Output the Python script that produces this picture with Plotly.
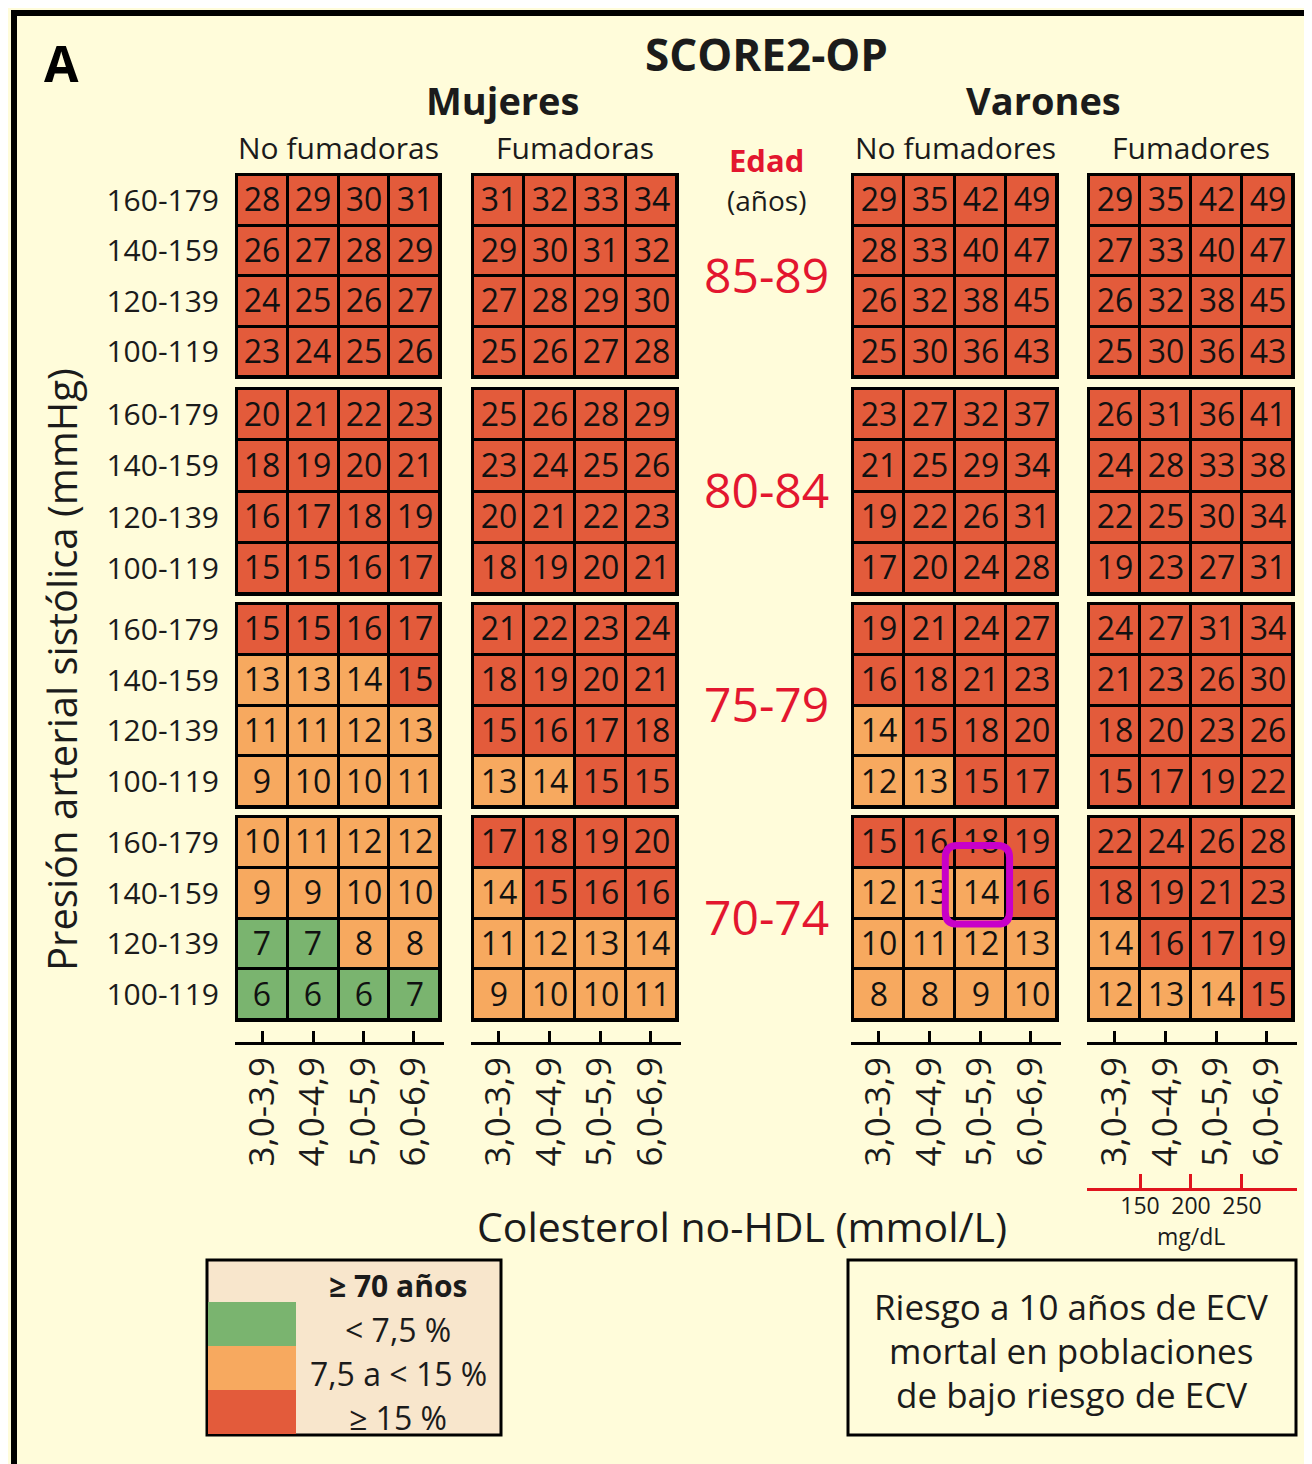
import plotly.graph_objects as go

# ---------------- data ----------------
chol_labels = ["3,0-3,9", "4,0-4,9", "5,0-5,9", "6,0-6,9"]
bp_labels = ["100-119", "120-139", "140-159", "160-179"]          # bottom -> top
age_groups = ["85-89", "80-84", "75-79", "70-74"]                  # top -> bottom
panel_titles = ["No fumadoras", "Fumadoras", "No fumadores", "Fumadores"]
sex_titles = ["Mujeres", "Varones"]
mgdl_ticks = [150, 200, 250]
risk_thresholds = [7.5, 15]
legend_labels = ["< 7,5 %", "7,5 a < 15 %", "≥ 15 %"]

# rows listed top (160-179) to bottom (100-119)
mujeres_no_fumadoras = {
    "85-89": [[28, 29, 30, 31], [26, 27, 28, 29], [24, 25, 26, 27], [23, 24, 25, 26]],
    "80-84": [[20, 21, 22, 23], [18, 19, 20, 21], [16, 17, 18, 19], [15, 15, 16, 17]],
    "75-79": [[15, 15, 16, 17], [13, 13, 14, 15], [11, 11, 12, 13], [9, 10, 10, 11]],
    "70-74": [[10, 11, 12, 12], [9, 9, 10, 10], [7, 7, 8, 8], [6, 6, 6, 7]],
}
mujeres_fumadoras = {
    "85-89": [[31, 32, 33, 34], [29, 30, 31, 32], [27, 28, 29, 30], [25, 26, 27, 28]],
    "80-84": [[25, 26, 28, 29], [23, 24, 25, 26], [20, 21, 22, 23], [18, 19, 20, 21]],
    "75-79": [[21, 22, 23, 24], [18, 19, 20, 21], [15, 16, 17, 18], [13, 14, 15, 15]],
    "70-74": [[17, 18, 19, 20], [14, 15, 16, 16], [11, 12, 13, 14], [9, 10, 10, 11]],
}
varones_no_fumadores = {
    "85-89": [[29, 35, 42, 49], [28, 33, 40, 47], [26, 32, 38, 45], [25, 30, 36, 43]],
    "80-84": [[23, 27, 32, 37], [21, 25, 29, 34], [19, 22, 26, 31], [17, 20, 24, 28]],
    "75-79": [[19, 21, 24, 27], [16, 18, 21, 23], [14, 15, 18, 20], [12, 13, 15, 17]],
    "70-74": [[15, 16, 18, 19], [12, 13, 14, 16], [10, 11, 12, 13], [8, 8, 9, 10]],
}
varones_fumadores = {
    "85-89": [[29, 35, 42, 49], [27, 33, 40, 47], [26, 32, 38, 45], [25, 30, 36, 43]],
    "80-84": [[26, 31, 36, 41], [24, 28, 33, 38], [22, 25, 30, 34], [19, 23, 27, 31]],
    "75-79": [[24, 27, 31, 34], [21, 23, 26, 30], [18, 20, 23, 26], [15, 17, 19, 22]],
    "70-74": [[22, 24, 26, 28], [18, 19, 21, 23], [14, 16, 17, 19], [12, 13, 14, 15]],
}
panels_data = [mujeres_no_fumadoras, mujeres_fumadoras, varones_no_fumadores, varones_fumadores]

# highlighted cell
highlight = {"panel": 2, "age": "70-74", "bp": "140-159", "chol": "5,0-5,9"}

# ---------------- style ----------------
W, H = 1312, 1464
OFF = 8                      # page body margin
FW, FH = W - OFF, H - OFF
FONT = "Open Sans"
TXT = "#1b1b1b"
RED_TXT = "#E3162F"
BG = "#FFFCDA"
LEGEND_BG = "#F8E6CC"
risk_colors = ["#7AB46F", "#F7A95F", "#E35B3B"]
MAGENTA = "#C800C8"

panel_x = [(237, 440), (473, 677), (853, 1057), (1089, 1293)]
block_y = [(175, 377), (389, 594), (604, 807), (817, 1020)]


def fx(px):
    return (px - OFF) / FW


def fy(py):
    return 1 - (py - OFF) / FH


def category(v):
    return sum(1 for t in risk_thresholds if v >= t)


colorscale = [[0, risk_colors[0]], [1 / 3, risk_colors[0]],
              [1 / 3, risk_colors[1]], [2 / 3, risk_colors[1]],
              [2 / 3, risk_colors[2]], [1, risk_colors[2]]]

fig = go.Figure()
layout_axes = {}
shapes = []

xi_idx = list(range(len(chol_labels)))
yi_idx = list(range(len(bp_labels)))

for p, pdata in enumerate(panels_data):
    for b, age in enumerate(age_groups):
        k = p * 4 + b + 1
        rows = list(reversed(pdata[age]))  # bottom -> top
        z = [[category(v) for v in r] for r in rows]
        sfx = "" if k == 1 else str(k)
        fig.add_trace(go.Heatmap(
            x=xi_idx, y=yi_idx, z=z, text=rows, texttemplate="%{text}",
            textfont=dict(family=FONT, size=32, color="#111111"),
            colorscale=colorscale, zmin=0, zmax=2, showscale=False,
            xgap=3, ygap=3, xaxis="x" + sfx, yaxis="y" + sfx, hoverinfo="skip"))
        x0, x1 = panel_x[p]
        y0, y1 = block_y[b]
        layout_axes["xaxis" + sfx] = dict(
            domain=[fx(x0), fx(x1)], anchor="y" + sfx, range=[-0.5, 3.5],
            showgrid=False, zeroline=False, showticklabels=False, ticks="",
            showline=True, mirror=True, linewidth=2, linecolor="black", fixedrange=True)
        yax = dict(
            domain=[fy(y1), fy(y0)], anchor="x" + sfx, range=[-0.5, 3.5],
            showgrid=False, zeroline=False, ticks="",
            showline=True, mirror=True, linewidth=2, linecolor="black", fixedrange=True)
        if p == 0:
            yax.update(showticklabels=True, tickvals=yi_idx, ticktext=bp_labels,
                       tickfont=dict(family=FONT, size=30, color=TXT), ticklabelstandoff=10)
        else:
            yax.update(showticklabels=False)
        layout_axes["yaxis" + sfx] = yax
        shapes.append(dict(type="rect", xref="x" + sfx + " domain", yref="y" + sfx + " domain",
                           x0=0, x1=1, y0=0, y1=1, fillcolor="black", line=dict(width=0),
                           layer="below"))

# cholesterol tick strips under each panel
for p in range(4):
    k = 17 + p
    x0, x1 = panel_x[p]
    fig.add_trace(go.Scatter(x=xi_idx, y=[0] * 4, mode="markers", marker=dict(opacity=0),
                             xaxis=f"x{k}", yaxis=f"y{k}", hoverinfo="skip", showlegend=False))
    layout_axes[f"xaxis{k}"] = dict(
        domain=[fx(x0 - 2), fx(x1 + 4)], anchor=f"y{k}", range=[-0.55, 3.6],
        tickvals=xi_idx, ticktext=chol_labels, tickangle=-90,
        tickfont=dict(family=FONT, size=35, color=TXT), ticks="inside", ticklen=11,
        tickwidth=3, tickcolor="black", showline=True, linewidth=3, linecolor="black",
        showgrid=False, zeroline=False, ticklabelstandoff=-2, fixedrange=True)
    layout_axes[f"yaxis{k}"] = dict(domain=[fy(1042), fy(1030)], anchor=f"x{k}",
                                    visible=False, range=[-1, 1], fixedrange=True)

# mg/dL red axis under last panel
k = 21
fig.add_trace(go.Scatter(x=mgdl_ticks, y=[0] * 3, mode="markers", marker=dict(opacity=0),
                         xaxis=f"x{k}", yaxis=f"y{k}", hoverinfo="skip", showlegend=False))
layout_axes[f"xaxis{k}"] = dict(
    domain=[fx(1087), fx(1297)], anchor=f"y{k}", range=[98, 304],
    tickvals=mgdl_ticks, tickfont=dict(family=FONT, size=23, color=TXT),
    ticks="inside", ticklen=14, tickwidth=3, tickcolor="#E0141E",
    showline=True, linewidth=3, linecolor="#E0141E", showgrid=False, zeroline=False,
    ticklabelstandoff=-5, fixedrange=True)
layout_axes[f"yaxis{k}"] = dict(domain=[fy(1188), fy(1173)], anchor=f"x{k}",
                                visible=False, range=[-1, 1], fixedrange=True)

# highlight box around a cell
hp = highlight["panel"]
hb = age_groups.index(highlight["age"])
hk = hp * 4 + hb + 1
hx = chol_labels.index(highlight["chol"])
hy = bp_labels.index(highlight["bp"])
bx0, bx1 = hx - 0.69, hx + 0.57
by0, by1 = hy - 0.61, hy + 0.94
r = 0.24
path = (f"M {bx0 + r},{by0} L {bx1 - r},{by0} Q {bx1},{by0} {bx1},{by0 + r} "
        f"L {bx1},{by1 - r} Q {bx1},{by1} {bx1 - r},{by1} L {bx0 + r},{by1} "
        f"Q {bx0},{by1} {bx0},{by1 - r} L {bx0},{by0 + r} Q {bx0},{by0} {bx0 + r},{by0} Z")
shapes.append(dict(type="path", xref=f"x{hk}", yref=f"y{hk}", path=path,
                   line=dict(color=MAGENTA, width=7), layer="above"))

# outer frame (top and left)
shapes.append(dict(type="line", xref="paper", yref="paper", x0=fx(11), x1=1.0,
                   y0=fy(13), y1=fy(13), line=dict(color="black", width=6)))
shapes.append(dict(type="line", xref="paper", yref="paper", x0=fx(14), x1=fx(14),
                   y0=fy(10), y1=0, line=dict(color="black", width=6)))

# legend box
shapes.append(dict(type="rect", xref="paper", yref="paper", x0=fx(207), x1=fx(501),
                   y0=fy(1435), y1=fy(1260), fillcolor=LEGEND_BG,
                   line=dict(color="black", width=3), layer="below"))
leg_top = 1302
leg_h = 44
annotations = []
for i, (c, lab) in enumerate(zip(risk_colors, legend_labels)):
    ya, yb = leg_top + i * leg_h, leg_top + (i + 1) * leg_h
    shapes.append(dict(type="rect", xref="paper", yref="paper", x0=fx(208), x1=fx(296),
                       y0=fy(yb), y1=fy(ya), fillcolor=c, line=dict(width=0)))
    annotations.append(dict(x=fx(398), y=fy((ya + yb) / 2 + 5), text=lab,
                            font=dict(family=FONT, size=32, color=TXT)))
annotations.append(dict(x=fx(398), y=fy(1285), text="<b>≥ 70 años</b>",
                        font=dict(family=FONT, size=30, color=TXT)))

# right info box
shapes.append(dict(type="rect", xref="paper", yref="paper", x0=fx(848), x1=fx(1296),
                   y0=fy(1435), y1=fy(1260), line=dict(color="black", width=3)))
for i, line in enumerate(["Riesgo a 10 años de ECV", "mortal en poblaciones",
                          "de bajo riesgo de ECV"]):
    annotations.append(dict(x=fx(1071), y=fy(1306 + i * 44), text=line,
                            font=dict(family=FONT, size=35, color=TXT)))

# titles
annotations += [
    dict(x=fx(61), y=fy(63), text="<b>A</b>", font=dict(family=FONT, size=50, color="black")),
    dict(x=fx(766), y=fy(54), text="<b>SCORE2-OP</b>", font=dict(family=FONT, size=44, color=TXT)),
    dict(x=fx(503), y=fy(100), text="<b>" + sex_titles[0] + "</b>", font=dict(family=FONT, size=38, color=TXT)),
    dict(x=fx(1043), y=fy(100), text="<b>" + sex_titles[1] + "</b>", font=dict(family=FONT, size=38, color=TXT)),
    dict(x=fx(766), y=fy(160), text="<b>Edad</b>", font=dict(family=FONT, size=31, color=RED_TXT)),
    dict(x=fx(766), y=fy(200), text="(años)", font=dict(family=FONT, size=28, color=TXT)),
    dict(x=fx(62), y=fy(670), text="Presión arterial sistólica (mmHg)", textangle=-90,
         font=dict(family=FONT, size=40, color=TXT)),
    dict(x=fx(742), y=fy(1226), text="Colesterol no-HDL (mmol/L)",
         font=dict(family=FONT, size=41, color=TXT)),
    dict(x=fx(1191), y=fy(1236), text="mg/dL", font=dict(family=FONT, size=23, color=TXT)),
]
for p, t in enumerate(panel_titles):
    x0, x1 = panel_x[p]
    annotations.append(dict(x=fx((x0 + x1) / 2), y=fy(147), text=t,
                            font=dict(family=FONT, size=30, color=TXT)))
for b, age in enumerate(age_groups):
    y0, y1 = block_y[b]
    annotations.append(dict(x=fx(766), y=fy((y0 + y1) / 2 - 2), text=age,
                            font=dict(family=FONT, size=48, color=RED_TXT)))

for a in annotations:
    a.update(xref="paper", yref="paper", showarrow=False, xanchor="center", yanchor="middle")

fig.update_layout(
    width=FW, height=FH, margin=dict(l=0, r=0, t=0, b=0),
    paper_bgcolor=BG, plot_bgcolor="rgba(0,0,0,0)", showlegend=False,
    annotations=annotations, shapes=shapes, **layout_axes)

fig.write_html("out.html")
